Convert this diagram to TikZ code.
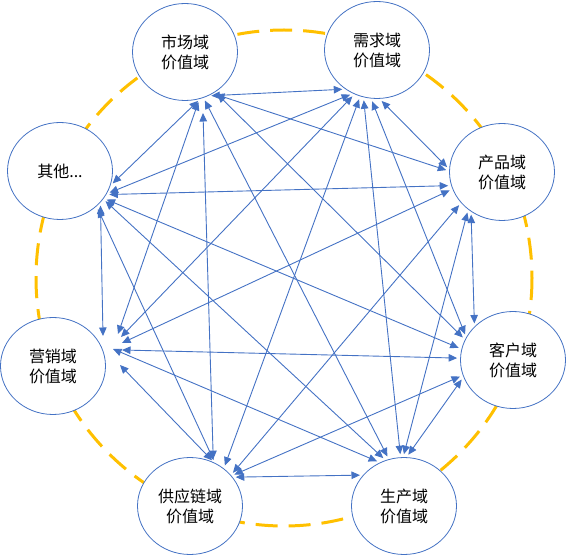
\documentclass[tikz,border=0pt]{standalone}
\usepackage{fontspec}
\setmainfont{Noto Sans CJK SC}
\usetikzlibrary{shapes.geometric,arrows.meta,calc}
\definecolor{ringgold}{HTML}{FFC000}
\definecolor{linkblue}{HTML}{4472C4}
\tikzset{
  valnode/.style={ellipse, draw=linkblue, line width=0.8pt, fill=white,
    minimum width=105pt, minimum height=97pt, inner sep=0pt,
    align=center, font=\fontsize{16}{20}\selectfont, text=black},
  vlink/.style={draw=linkblue, line width=0.9pt,
    {Triangle[length=8.5pt,width=7.5pt]}-{Triangle[length=8.5pt,width=7.5pt]},
    shorten >=3pt, shorten <=3pt},
  tipend/.style={shorten >=0pt},
  tipstart/.style={shorten <=0pt},
  goldring/.style={draw=ringgold, line width=3pt, dash pattern=on 22pt off 11pt}
}
\begin{document}
\begin{tikzpicture}[x=1pt,y=-1pt]
\useasboundingbox (0,0) rectangle (566,556);
\draw[goldring] (284,278) circle[radius=248];
\node[valnode] (A) at (185,52) {市场域\\价值域};
\node[valnode] (B) at (377,50) {需求域\\价值域};
\node[valnode] (C) at (502,172) {产品域\\价值域};
\node[valnode] (D) at (513,360) {客户域\\价值域};
\node[valnode] (E) at (404,506) {生产域\\价值域};
\node[valnode] (F) at (190,506) {供应链域\\价值域};
\node[valnode] (G) at (53,366) {营销域\\价值域};
\node[valnode] (H) at (60,171) {其他...};
% A
\draw[vlink] (A.-62) -- (B.-129);
\draw[vlink] (A.-56) -- (C.179);
\draw[vlink] (A.-53) -- (D.157);
\draw[vlink] (A.-68) -- (E.108);
\draw[vlink,tipstart] ($(A)+(18,61)$) -- (F.62);
\draw[vlink,tipend] (A.-73) -- ($(G)+(65,-32)$);
\draw[vlink] (A.-72) -- (H.-16);
% B
\draw[vlink] (B.-87) -- (C.177);
\draw[vlink] (B.-97) -- (D.154);
\draw[vlink] (B.-106) -- (E.94);
\draw[vlink] (B.-110) -- (F.48);
\draw[vlink,tipend] (B.-117) -- ($(G)+(68,-29)$);
\draw[vlink] (B.-119) -- (H.-26);
% C
\draw[vlink] (C.-128) -- (D.139);
\draw[vlink] (C.-132) -- (E.91);
\draw[vlink] (C.-143) -- (F.37);
\draw[vlink,tipend] (C.-161) -- ($(G)+(69,-23)$);
\draw[vlink] (C.-165) -- (H.-27);
% D
\draw[vlink] (D.-161) -- (E.87);
\draw[vlink] (D.-163) -- (F.36);
\draw[vlink,tipend] (D.178) -- ($(G)+(69,-16)$);
\draw[vlink] (D.168) -- (H.-32);
% E
\draw[vlink] (E.143) -- (F.34);
\draw[vlink,tipend] (E.119) -- ($(G)+(60,-17)$);
\draw[vlink] (E.112) -- (H.-33);
% F
\draw[vlink,tipend] (F.61) -- ($(G)+(67,-1)$);
\draw[vlink] (F.60) -- (H.-44);
% G
\draw[vlink,tipstart] ($(G)+(50,-30)$) -- (H.-38);
\end{tikzpicture}
\end{document}
